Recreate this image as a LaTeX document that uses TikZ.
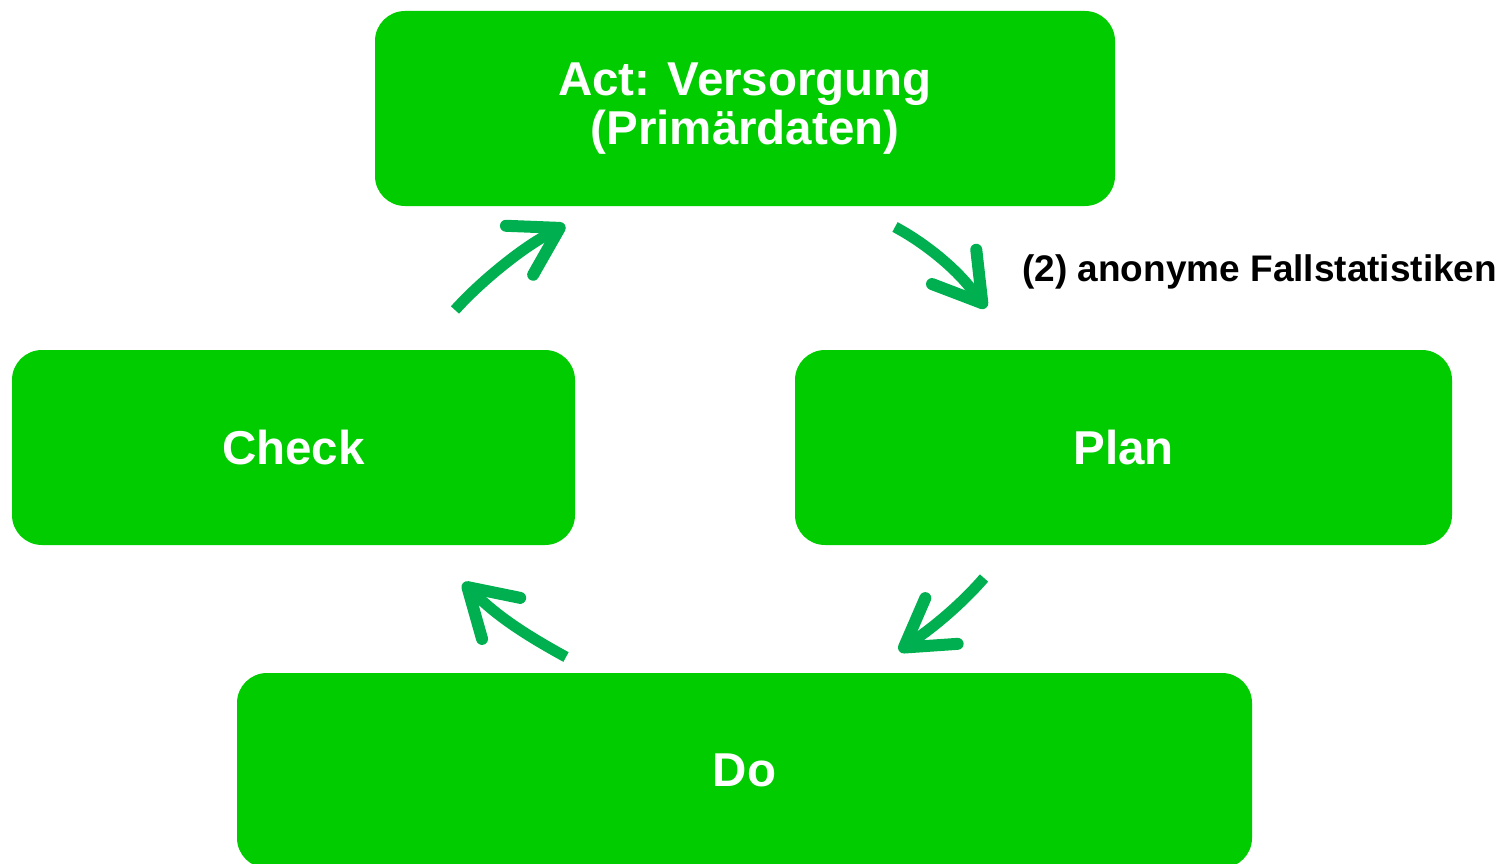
\documentclass[tikz,border=0pt]{standalone}
\usepackage{fontspec}
\setmainfont{Liberation Sans}
\usetikzlibrary{arrows.meta}
\definecolor{boxgreen}{HTML}{00CC00}
\definecolor{arrowgreen}{HTML}{00B050}
\begin{document}
\begin{tikzpicture}[x=1pt,y=-1pt,
  box/.style={draw=none,fill=boxgreen,rounded corners=30pt,text=white,
    font=\fontsize{47.5}{49}\selectfont\bfseries,align=center,inner sep=0pt},
  cyc/.style={draw=arrowgreen,line width=11pt,
    -{Straight Barb[length=46pt,width=56pt,line width=12pt,round,sep=-26pt]Triangle[length=26pt,width=30pt]}},
  lbl/.style={font=\fontsize{37}{40}\selectfont\bfseries,anchor=west,inner sep=0pt}]
\useasboundingbox (0,0) rectangle (1506,864);
\clip (0,0) rectangle (1506,864);
\node[box,minimum width=740pt,minimum height=195pt] (act) at (745,108.5) {Act: Versorgung\\(Primärdaten)};
\node[box,minimum width=563pt,minimum height=195pt] (check) at (293.5,447.5) {Check};
\node[box,minimum width=657pt,minimum height=195pt] (plan) at (1123.5,447.5) {Plan};
\node[box,minimum width=1015pt,minimum height=195pt] (do) at (744.5,770.5) {Do};
\node[lbl] (label) at (1022,272) {(2) anonyme Fallstatistiken};
\coordinate (a1s) at (455,310); \coordinate (a1e) at (565,225);
\coordinate (a2s) at (895,227); \coordinate (a2e) at (986,308);
\coordinate (a3s) at (984,578); \coordinate (a3e) at (899,651);
\coordinate (a4s) at (566,657); \coordinate (a4e) at (463,583);
\draw[cyc] (a1s) .. controls (480,282) and (520,250) .. (a1e);
\draw[cyc] (a2s) .. controls (925,243) and (955,268) .. (a2e);
\draw[cyc] (a3s) .. controls (965,600) and (940,622) .. (a3e);
\draw[cyc] (a4s) .. controls (535,640) and (505,622) .. (a4e);
\end{tikzpicture}
\end{document}
